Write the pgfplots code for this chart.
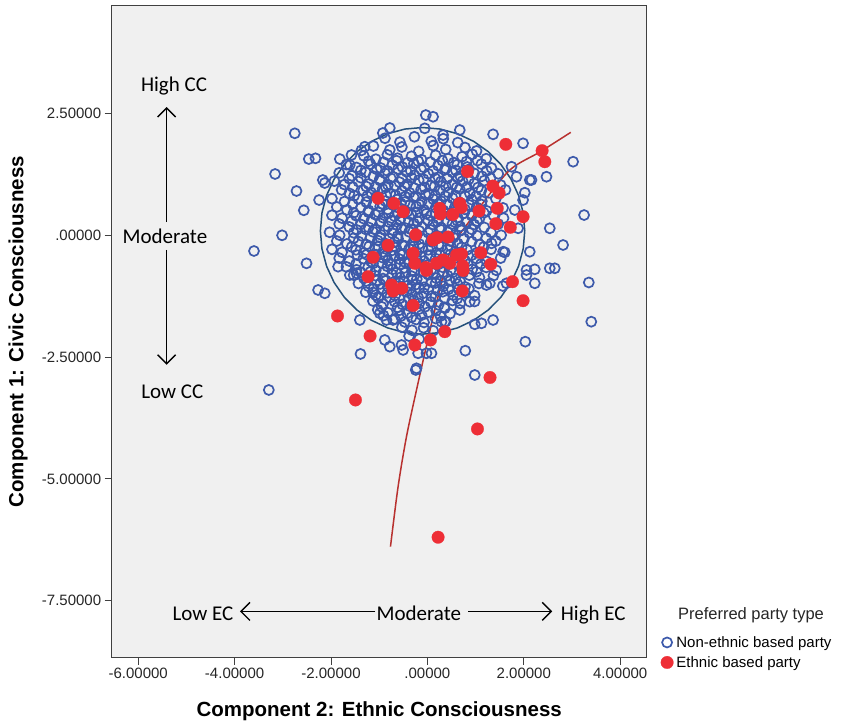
\documentclass[border=0pt]{standalone}
\usepackage{pgfplots}
\pgfplotsset{compat=1.18}
\usepackage{fontspec}
\setmainfont{Liberation Sans}
\newfontfamily\calibri{Carlito}
\usetikzlibrary{arrows.meta}
\definecolor{bg}{HTML}{F0F0F0}
\definecolor{bluept}{HTML}{3D5AAB}
\definecolor{redpt}{HTML}{EE2E36}
\definecolor{fitline}{HTML}{B8312F}
\definecolor{circ}{HTML}{24507A}
\begin{document}
\begin{tikzpicture}
\begin{axis}[
  name=ax,
  scale only axis, width=535pt, height=652pt,
  xmin=-6.55, xmax=4.55, ymin=-8.67, ymax=4.71,
  clip=false,
  axis background/.style={fill=bg},
  axis line style={line width=1.2pt, draw=black!75},
  tick align=outside, xtick pos=bottom, ytick pos=left,
  major tick length=7pt,
  every tick/.style={line width=1pt, draw=black!75},
  xtick={-6,-4,-2,0,2,4},
  xticklabels={-6.00000,-4.00000,-2.00000,.00000,2.00000,4.00000},
  ytick={-7.5,-5,-2.5,0,2.5},
  yticklabels={-7.50000,-5.00000,-2.50000,.00000,2.50000},
  tick label style={font=\fontsize{15}{17}\selectfont, text=black!85},
  xlabel={Component 2: Ethnic Consciousness},
  ylabel={Component 1: Civic Consciousness},
  xlabel style={at={(axis description cs:0.5,-0.0828)}, anchor=center, font=\fontsize{20.5}{24}\selectfont\bfseries},
  ylabel style={at={(axis description cs:-0.1751,0.5)}, anchor=center, font=\fontsize{20.5}{24}\selectfont\bfseries},
  legend cell align=left,
  legend image code/.code={\draw[#1] plot coordinates {(6pt,5pt)};},
  legend style={draw=none, fill=none, at={(1.026,0.0344)}, anchor=north west, inner sep=0pt,
    font=\fontsize{15}{17}\selectfont, row sep=4pt, column sep=2pt,
    nodes={inner sep=1pt, text height=11pt, text depth=3pt, anchor=base west}},
]
% Non-ethnic based party
\addplot[only marks, mark=o, mark size=5.0pt, line width=1.7pt, color=bluept] coordinates {
(-3.598,-0.324) (-3.290,-3.176) (-3.160,1.256) (-3.015,-0.002) (-2.751,2.091) (-2.716,0.907) (-2.564,0.511) (-2.508,-0.577) (-2.461,1.563) (-2.322,1.578) (-2.268,-1.124) (-2.129,-1.192) (-2.247,0.722) (-2.170,1.133) (-2.129,1.071) (-1.853,-0.646) (-1.610,-0.817) (-1.471,-0.782) (-1.402,-1.740) (-1.388,-2.437) (-1.127,-1.172) (-0.988,-1.602) (-0.849,-1.740) (-0.712,-1.740) (-0.884,-2.150) (-0.780,-2.288) (-0.537,-2.253) (-0.504,-2.355) (-0.226,-2.731) (-0.241,-2.766) (-0.330,-1.684) (-0.019,-2.423) (-1.817,1.563) (-1.575,1.646) (-1.610,1.440) (-1.299,1.816) (-0.925,2.097) (-0.780,2.200) (-0.033,2.466) (0.118,2.431) (0.672,2.158) (0.326,2.056) (-0.054,2.193)
(3.023,1.508) (3.251,0.414) (2.539,0.142) (2.815,-0.201) (2.471,1.200) (2.124,1.133) (2.160,1.133) (1.985,1.886) (1.363,2.070) (1.745,1.405) (1.849,1.200) (2.021,0.872) (1.985,0.722) (1.813,0.517) (1.882,0.142) (2.124,-0.339) (1.606,-0.351) (2.056,-0.714) (2.228,-0.700) (2.539,-0.679) (2.643,-0.679) (2.056,-0.817) (2.228,-0.987) (3.349,-0.970) (3.400,-1.775) (2.031,-2.185) (1.363,-1.740) (0.983,-1.828) (1.122,-1.808) (0.786,-2.370) (0.983,-2.869) (0.361,-1.775) (0.293,-1.775) (0.880,-1.364) (0.672,-1.535) (0.361,-1.500) (0.085,-2.423) (-0.193,-2.423) (1.564,-1.042) (1.641,-0.987) (1.295,-0.987) (1.226,-1.022) (1.330,-0.166) (1.571,-0.339)
(-0.88,1.99) (-0.57,1.91) (-0.27,2.02) (0.08,1.93) (0.33,1.98) (0.63,1.90)
(-1.37,1.74) (-1.12,1.83) (-0.78,1.75) (-0.53,1.81) (-0.18,1.72) (0.12,1.84) (0.38,1.76) (0.78,1.80) (1.02,1.73)
(-1.32,1.63) (-1.07,1.56) (-0.83,1.65) (-0.62,1.58) (-0.33,1.62) (-0.12,1.55) (0.17,1.64) (0.43,1.57) (0.72,1.61) (0.93,1.66) (1.22,1.57)
(-1.68,1.45) (-1.47,1.39) (-1.18,1.46) (-0.97,1.38) (-0.73,1.44) (-0.52,1.40) (-0.28,1.47) (-0.07,1.39) (0.22,1.43) (0.38,1.37) (0.62,1.45) (0.83,1.40) (1.12,1.46) (1.33,1.38)
(-1.83,1.28) (-1.57,1.22) (-1.28,1.29) (-1.12,1.21) (-0.88,1.27) (-0.72,1.20) (-0.43,1.30) (-0.27,1.23) (0.02,1.26) (0.23,1.19) (0.52,1.29) (0.68,1.22) (0.97,1.27) (1.13,1.21) (1.47,1.26)
(-1.93,1.11) (-1.72,1.04) (-1.43,1.10) (-1.22,1.05) (-0.98,1.12) (-0.82,1.03) (-0.58,1.09) (-0.42,1.05) (-0.18,1.13) (0.07,1.02) (0.28,1.10) (0.52,1.04) (0.73,1.11) (0.97,1.06) (1.18,1.12) (1.52,1.03)
(-1.78,0.93) (-1.62,0.86) (-1.33,0.92) (-1.17,0.88) (-0.93,0.95) (-0.77,0.86) (-0.53,0.91) (-0.37,0.87) (-0.13,0.94) (0.03,0.85) (0.27,0.92) (0.43,0.88) (0.67,0.95) (0.88,0.86) (1.12,0.92) (1.28,0.87) (1.62,0.93)
(-1.98,0.75) (-1.72,0.69) (-1.43,0.74) (-1.27,0.68) (-1.03,0.76) (-0.87,0.70) (-0.63,0.73) (-0.47,0.68) (-0.28,0.77) (-0.12,0.69) (0.12,0.74) (0.28,0.70) (0.52,0.76) (0.68,0.67) (0.92,0.73) (1.13,0.70) (1.42,0.75)
(-1.88,0.58) (-1.67,0.52) (-1.38,0.57) (-1.22,0.51) (-0.98,0.59) (-0.82,0.53) (-0.58,0.56) (-0.47,0.50) (-0.23,0.59) (-0.07,0.52) (0.17,0.57) (0.33,0.51) (0.57,0.58) (0.78,0.53) (1.02,0.57) (1.23,0.50) (1.57,0.56)
(-1.98,0.41) (-1.77,0.35) (-1.48,0.40) (-1.32,0.34) (-1.08,0.42) (-0.92,0.36) (-0.68,0.39) (-0.57,0.33) (-0.33,0.42) (-0.17,0.35) (0.07,0.40) (0.23,0.34) (0.47,0.41) (0.63,0.36) (0.92,0.40) (1.08,0.34) (1.37,0.41) (1.58,0.35)
(-1.83,0.23) (-1.62,0.17) (-1.38,0.22) (-1.22,0.16) (-0.98,0.24) (-0.82,0.18) (-0.63,0.21) (-0.47,0.15) (-0.28,0.24) (-0.12,0.17) (0.12,0.22) (0.28,0.16) (0.52,0.23) (0.68,0.18) (0.97,0.22) (1.18,0.16) (1.47,0.23)
(-2.03,0.06) (-1.82,0.00) (-1.53,0.05) (-1.37,-0.01) (-1.13,0.07) (-0.97,0.01) (-0.73,0.04) (-0.62,-0.02) (-0.38,0.07) (-0.22,0.00) (0.02,0.05) (0.18,-0.01) (0.42,0.06) (0.58,0.01) (0.87,0.05) (1.03,-0.01) (1.32,0.06) (1.53,0.00)
(-1.88,-0.12) (-1.67,-0.18) (-1.43,-0.13) (-1.27,-0.19) (-1.03,-0.11) (-0.87,-0.17) (-0.68,-0.14) (-0.52,-0.20) (-0.28,-0.11) (-0.17,-0.18) (0.07,-0.13) (0.23,-0.19) (0.47,-0.12) (0.63,-0.17) (0.92,-0.13) (1.08,-0.19) (1.42,-0.12)
(-1.98,-0.29) (-1.77,-0.35) (-1.48,-0.30) (-1.32,-0.36) (-1.08,-0.28) (-0.92,-0.34) (-0.73,-0.31) (-0.57,-0.37) (-0.38,-0.28) (-0.22,-0.35) (0.02,-0.30) (0.18,-0.36) (0.42,-0.29) (0.58,-0.34) (0.82,-0.30) (1.03,-0.36) (1.32,-0.29)
(-1.83,-0.47) (-1.62,-0.53) (-1.33,-0.48) (-1.17,-0.54) (-0.93,-0.46) (-0.82,-0.52) (-0.58,-0.49) (-0.47,-0.55) (-0.23,-0.46) (-0.07,-0.53) (0.17,-0.48) (0.33,-0.54) (0.57,-0.47) (0.78,-0.52) (1.02,-0.48) (1.23,-0.54) (1.52,-0.47)
(-1.68,-0.65) (-1.47,-0.71) (-1.23,-0.66) (-1.07,-0.72) (-0.83,-0.64) (-0.72,-0.70) (-0.48,-0.67) (-0.32,-0.73) (-0.08,-0.64) (0.08,-0.71) (0.32,-0.66) (0.48,-0.72) (0.72,-0.65) (0.93,-0.70) (1.22,-0.66) (1.43,-0.72)
(-1.53,-0.82) (-1.32,-0.88) (-1.08,-0.83) (-0.92,-0.89) (-0.73,-0.81) (-0.57,-0.87) (-0.33,-0.84) (-0.22,-0.90) (0.02,-0.81) (0.18,-0.88) (0.42,-0.83) (0.58,-0.89) (0.87,-0.82) (1.08,-0.87) (1.37,-0.83)
(-1.43,-0.99) (-1.22,-1.05) (-0.98,-1.00) (-0.82,-1.06) (-0.58,-0.98) (-0.42,-1.04) (-0.23,-1.01) (-0.07,-1.07) (0.17,-0.98) (0.33,-1.05) (0.62,-1.00) (0.78,-1.06) (1.07,-0.99)
(-1.28,-1.17) (-1.07,-1.23) (-0.83,-1.18) (-0.67,-1.24) (-0.43,-1.16) (-0.32,-1.22) (-0.08,-1.19) (0.08,-1.25) (0.32,-1.16) (0.53,-1.23) (0.77,-1.18) (0.98,-1.24)
(-1.13,-1.35) (-0.92,-1.41) (-0.68,-1.36) (-0.52,-1.42) (-0.28,-1.34) (-0.17,-1.40) (0.07,-1.37) (0.23,-1.43) (0.52,-1.34) (0.68,-1.40) (0.98,-1.36)
(-1.03,-1.53) (-0.82,-1.59) (-0.58,-1.54) (-0.42,-1.60) (-0.18,-1.52) (0.02,-1.58) (0.18,-1.55) (0.47,-1.61)
(-0.68,-1.72) (-0.47,-1.78) (-0.23,-1.73) (-0.07,-1.79) (0.17,-1.71) (0.38,-1.77)
(-0.53,-1.89) (-0.32,-1.95) (-0.08,-1.90) (0.12,-1.96)
(-0.38,-2.07) (-0.17,-2.13)
(-1.08,0.99) (-0.67,1.01) (-0.28,0.97) (0.15,1.00) (0.61,0.98)
(-1.25,0.80) (-0.86,0.82) (-0.46,0.79) (-0.04,0.83) (0.37,0.80) (0.78,0.81)
(-1.12,0.63) (-0.74,0.65) (-0.36,0.62) (0.02,0.64) (0.42,0.63) (0.87,0.62)
(-1.22,0.47) (-0.81,0.45) (-0.42,0.48) (-0.02,0.44) (0.37,0.47) (0.76,0.45)
(-1.17,0.28) (-0.75,0.30) (-0.39,0.27) (0.01,0.31) (0.41,0.29) (0.82,0.27)
(-1.28,0.12) (-0.88,0.10) (-0.53,0.13) (-0.17,0.09) (0.26,0.12) (0.71,0.10)
(-1.18,-0.05) (-0.79,-0.07) (-0.44,-0.04) (-0.07,-0.08) (0.33,-0.05) (0.76,-0.07)
(-1.21,-0.23) (-0.83,-0.25) (-0.47,-0.22) (-0.11,-0.26) (0.29,-0.23) (0.71,-0.25)
(-1.26,-0.40) (-0.87,-0.42) (-0.51,-0.39) (-0.14,-0.43) (0.26,-0.40) (0.67,-0.42)
(-1.13,-0.58) (-0.76,-0.60) (-0.38,-0.57) (0.01,-0.61) (0.41,-0.58) (0.84,-0.60)
(-1.18,-0.75) (-0.64,-0.77) (-0.27,-0.74) (0.12,-0.78) (0.53,-0.76)
(-1.05,-0.93) (-0.67,-0.95) (-0.31,-0.92) (0.08,-0.96) (0.47,-0.94)
(-0.93,-1.10) (-0.55,-1.12) (-0.17,-1.09) (0.21,-1.13) (0.65,-1.11)
(-0.78,-1.28) (-0.38,-1.30) (0.16,-1.27)
(-1.22,1.52) (-0.91,1.50) (-0.64,1.53) (-0.41,1.49) (-0.19,1.52) (0.06,1.50) (0.31,1.53) (0.55,1.49) (0.81,1.51) (1.04,1.53)
(-1.38,1.33) (-1.05,1.35) (-0.83,1.32) (-0.61,1.36) (-0.35,1.33) (-0.13,1.35) (0.12,1.32) (0.36,1.34) (0.59,1.33) (0.86,1.35) (1.23,1.32)
(-1.62,1.16) (-1.38,1.18) (-0.99,1.15) (-0.76,1.17) (-0.53,1.16) (-0.33,1.18) (-0.08,1.15) (0.16,1.17) (0.41,1.16) (0.63,1.18) (0.86,1.15) (1.31,1.17)
(-1.55,0.99) (-1.27,1.00) (-0.86,0.98) (-0.47,1.00) (-0.06,0.98) (0.38,1.01) (0.82,0.99) (1.05,0.98)
(-1.52,0.81) (-1.05,0.80) (-0.66,0.82) (-0.24,0.80) (0.16,0.81) (0.58,0.82) (1.01,0.80)
(-1.55,0.64) (-0.93,0.64) (-0.55,0.65) (-0.17,0.63) (0.22,0.64) (0.63,0.65) (1.12,0.63)
(-1.53,0.46) (-1.02,0.47) (-0.61,0.45) (-0.21,0.47) (0.17,0.45) (0.56,0.47) (1.17,0.46)
(-1.57,0.29) (-0.96,0.28) (-0.57,0.30) (-0.21,0.29) (0.21,0.28) (0.62,0.30) (1.03,0.29)
(-1.47,0.11) (-1.08,0.12) (-0.71,0.10) (-0.34,0.12) (0.06,0.11) (0.48,0.10) (0.92,0.12)
(-1.53,-0.06) (-0.98,-0.05) (-0.61,-0.07) (-0.26,-0.05) (0.13,-0.06) (0.54,-0.05) (1.22,-0.06)
(-1.57,-0.24) (-1.02,-0.23) (-0.65,-0.25) (-0.29,-0.23) (0.09,-0.24) (0.49,-0.23) (1.17,-0.24)
(-1.45,-0.41) (-1.06,-0.40) (-0.69,-0.42) (-0.33,-0.40) (0.06,-0.41) (0.47,-0.40) (0.92,-0.41)
(-1.48,-0.59) (-0.94,-0.58) (-0.57,-0.60) (-0.18,-0.58) (0.21,-0.59) (0.63,-0.58) (1.11,-0.59)
(-1.38,-0.76) (-0.91,-0.75) (-0.46,-0.77) (-0.08,-0.75) (0.33,-0.76) (0.74,-0.77) (1.02,-0.75)
(-1.27,-0.94) (-0.86,-0.93) (-0.49,-0.95) (-0.11,-0.93) (0.28,-0.94) (0.68,-0.95)
(-1.12,-1.10) (-0.73,-1.12) (-0.36,-1.10) (0.02,-1.12) (0.44,-1.11) (0.86,-1.10)
(-1.02,-1.29) (-0.58,-1.30) (-0.19,-1.28) (0.36,-1.29) (0.62,-1.30)
(-0.95,-1.47) (-0.62,-1.48) (-0.36,-1.46) (-0.05,-1.47) (0.35,-1.48)
(-0.91,-1.65) (-0.55,-1.66) (-0.12,-1.64) (0.27,-1.66)
};
\addlegendentry{Non-ethnic based party}
% Ethnic based party
\addplot[only marks, mark=*, mark size=6.3pt, color=redpt, mark options={draw=redpt, fill=redpt, line width=0.2pt}] coordinates {
(1.627,1.865) (2.380,1.734) (2.436,1.508) (0.832,1.307) (1.357,1.009) (1.488,0.866) (1.450,0.552) (1.985,0.380) (1.419,0.236) (1.720,0.162)
(1.071,0.497) (0.672,0.654) (0.703,0.568) (0.257,0.552) (0.268,0.435) (0.527,0.425) (-1.023,0.757) (-0.697,0.654) (-0.504,0.482) (-0.241,0.010)
(0.118,-0.098) (0.201,-0.051) (0.429,-0.037) (1.108,-0.359) (1.315,-0.595) (0.707,-0.386) (0.604,-0.406) (0.734,-0.632) (0.741,-0.724) (0.465,-0.577)
(0.326,-0.509) (0.189,-0.577) (-0.033,-0.663) (-0.019,-0.724) (-0.297,-0.371) (-0.261,-0.577) (-0.815,-0.207) (-1.127,-0.453) (-1.230,-0.851) (-0.745,-1.022)
(-0.712,-1.145) (-0.531,-1.089) (0.724,-1.145) (-0.297,-1.442) (1.766,-0.954) (1.985,-1.344) (0.361,-1.980) (0.064,-2.150) (-0.261,-2.253) (-1.189,-2.068)
(-1.865,-1.658) (-1.492,-3.381) (1.299,-2.920) (1.039,-3.976) (0.222,-6.198)
};
\addlegendentry{Ethnic based party}
% fit circle
\addplot[forget plot, circ, line width=1.5pt] coordinates {
(2.020,0.090) (1.988,0.458) (1.892,0.815) (1.736,1.150) (1.524,1.453) (1.263,1.714) (0.960,1.926) (0.625,2.082) (0.268,2.178) (-0.100,2.210)
(-0.468,2.178) (-0.825,2.082) (-1.160,1.926) (-1.463,1.714) (-1.724,1.453) (-1.936,1.150) (-2.092,0.815) (-2.188,0.458) (-2.220,0.090)
(-2.188,-0.278) (-2.092,-0.635) (-1.936,-0.970) (-1.724,-1.273) (-1.463,-1.534) (-1.160,-1.746) (-0.825,-1.902) (-0.468,-1.998) (-0.100,-2.030)
(0.268,-1.998) (0.625,-1.902) (0.960,-1.746) (1.263,-1.534) (1.524,-1.273) (1.736,-0.970) (1.892,-0.635) (1.988,-0.278) (2.020,0.090)
};
% fit line
\addplot[forget plot, smooth, fitline, line width=1.5pt] coordinates {
(-0.766,-6.391) (-0.608,-5.160) (-0.434,-4.134) (-0.226,-3.176) (0.008,-2.150) (0.154,-1.535) (0.485,-0.304) (0.942,0.380) (1.087,0.579) (1.710,1.338) (2.332,1.707) (2.975,2.111)
};
% annotations
\begin{scope}[every node/.style={font=\calibri\fontsize{21}{24}\selectfont, text=black}]
\node[anchor=base] at (axis cs:-5.257,2.944) {High CC};
\node[anchor=base] at (axis cs:-5.445,-0.16) {Moderate};
\node[anchor=base] at (axis cs:-5.293,-3.36) {Low CC};
\node[anchor=base] at (axis cs:-4.656,-7.905) {Low EC};
\node[anchor=base] at (axis cs:-0.178,-7.905) {Moderate};
\node[anchor=base] at (axis cs:3.442,-7.905) {High EC};
\end{scope}
\draw[line width=1.4pt, -{Straight Barb[length=9pt,width=18pt]}] (axis cs:-5.41,0.27) -- (axis cs:-5.41,2.63);
\draw[line width=1.4pt, -{Straight Barb[length=9pt,width=18pt]}] (axis cs:-5.41,-0.30) -- (axis cs:-5.41,-2.66);
\draw[line width=1.4pt, -{Straight Barb[length=9pt,width=18pt]}] (axis cs:-1.08,-7.72) -- (axis cs:-3.89,-7.72);
\draw[line width=1.4pt, -{Straight Barb[length=9pt,width=18pt]}] (axis cs:0.85,-7.72) -- (axis cs:2.59,-7.72);
\node[anchor=center, font=\fontsize{16.5}{19}\selectfont, text=black!85] at (rel axis cs:1.195,0.0647) {Preferred party type};
\end{axis}
\path ([xshift=-111.7pt,yshift=-67.3pt]ax.south west) rectangle ([xshift=194.3pt,yshift=5.7pt]ax.north east);
\end{tikzpicture}
\end{document}
